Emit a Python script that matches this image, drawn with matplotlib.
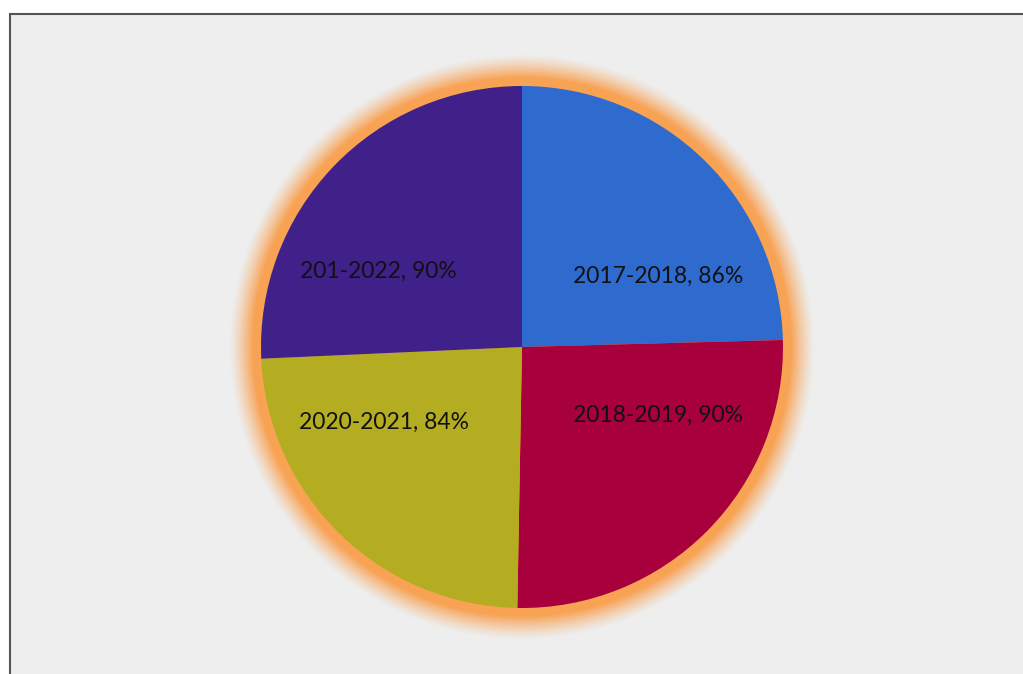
import numpy as np
import matplotlib
matplotlib.use('Agg')
from matplotlib import pyplot as plt

# data
periods = ['2017-2018', '2018-2019', '2020-2021', '201-2022']
rates = [86, 90, 84, 90]
colors = ['#2f6bcf', '#a8003c', '#b4ad22', '#40218a']

# label offsets relative to pie centre, in units of radius
label_off = [(0.52, 0.27), (0.52, -0.26), (-0.53, -0.29), (-0.55, 0.29)]

W, H = 1023, 674
cx, cy, r = 522, H - 347, 261

fig = plt.figure(figsize=(W / 100, H / 100), dpi=100)
ax = fig.add_axes([0, 0, 1, 1])

# page background + scanned border (top and left only)
ax.add_patch(plt.Rectangle((10, 0), W - 10, H - 14, color='#eeeeee', zorder=0))
ax.plot([10, W], [H - 14, H - 14], color='#555555', lw=1.5, zorder=1)
ax.plot([10, 10], [0, H - 14], color='#555555', lw=1.5, zorder=1)

# soft orange glow around the pie
yy, xx = np.mgrid[0:H, 0:W]
d = np.hypot(xx + 0.5 - cx, yy + 0.5 - cy) - r
a = np.clip(1 - (d - 8) / 24.0, 0, 1) ** 1.3
a[d < 8] = 1
glow = np.zeros((H, W, 4))
glow[..., 0] = 0.98
glow[..., 1] = 0.62
glow[..., 2] = 0.30
glow[..., 3] = a * 0.95
ax.imshow(glow, extent=(0, W, 0, H), origin='lower', zorder=2, interpolation='bilinear')

wedges, _ = ax.pie(rates, colors=colors, startangle=90, counterclock=False,
                   center=(cx, cy), radius=r, frame=True,
                   wedgeprops=dict(linewidth=0))
for w in wedges:
    w.set_zorder(3)
ax.set_xlim(0, W)
ax.set_ylim(0, H)
ax.set_aspect('auto')
ax.axis('off')

for p, v, (ox, oy) in zip(periods, rates, label_off):
    ax.text(cx + ox * r, cy + oy * r, '{}, {}%'.format(p, v), ha='center', va='center',
            fontsize=16.5, family='Lato', color='#111111', zorder=4)

fig.savefig('out.png', dpi=100)
